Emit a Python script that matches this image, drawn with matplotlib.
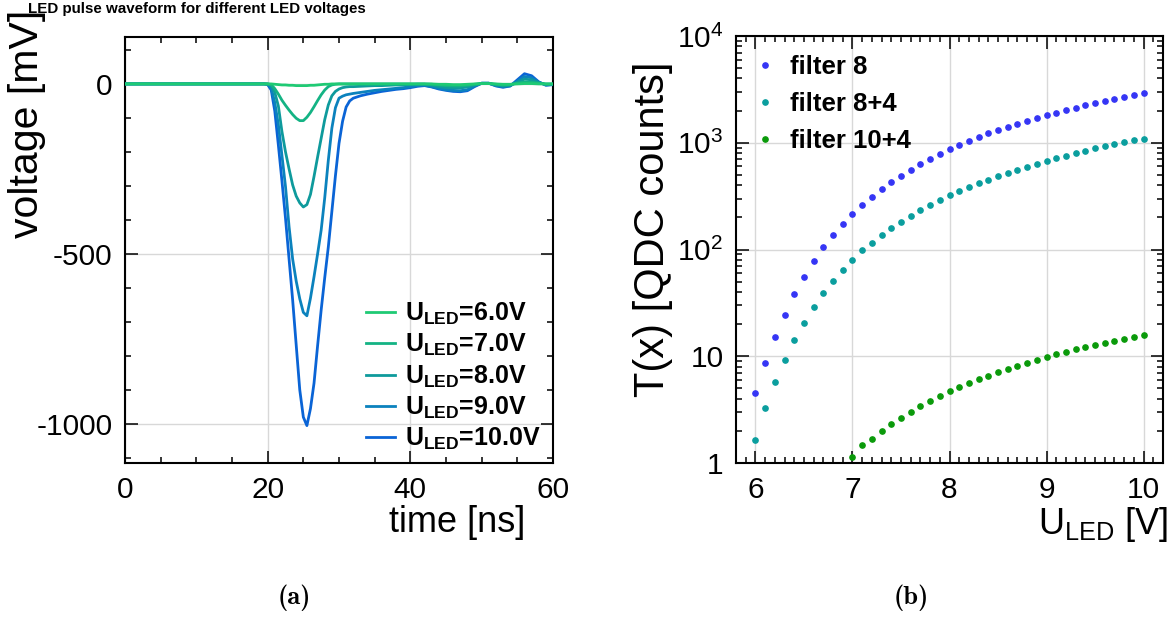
import numpy as np
import matplotlib
matplotlib.use("Agg")
from matplotlib import pyplot as plt
from matplotlib.ticker import MultipleLocator, LogLocator, FixedLocator, FixedFormatter
from matplotlib.lines import Line2D

plt.rcParams['font.family'] = ['Liberation Sans', 'DejaVu Sans']
plt.rcParams['mathtext.fontset'] = 'custom'
plt.rcParams['mathtext.rm'] = 'Liberation Sans'
plt.rcParams['mathtext.it'] = 'Liberation Sans:italic'
plt.rcParams['mathtext.bf'] = 'Liberation Sans:bold'
plt.rcParams['axes.unicode_minus'] = False

# --- (a) pulse waveforms ---
t_ns = [0, 5, 10, 15, 19.5, 20.0, 20.5, 21.0, 21.5, 22.0, 22.5, 23.0, 23.5, 24.0, 24.5,
        25.0, 25.5, 26.0, 26.5, 27.0, 27.5, 28.0, 28.5, 29.0, 29.5, 30.0, 30.5, 31.0,
        31.5, 32, 33, 34, 35, 36, 37, 38, 39, 40, 41, 42, 43, 44, 45, 46, 47, 48, 49,
        50, 51, 52, 53, 54, 55, 56, 57, 58, 59, 60]

v_6V = [0, 0, 0, 0, 0, 0, 0, -1, -2, -3, -3, -4, -4, -5, -5,
        -5, -5, -4, -4, -3, -2, -1, -1, 0, 0, 0, 0, 0,
        0, 0, 0, 0, 0, 0, 0, 0, 0, 0, 0, 0, 0, -1, -1, -2, -2, -1, 0,
        1, 1, 0, -1, -1, 0, 1, 1, 0, 0, 0]
v_7V = [0, 0, 0, 0, 0, 0, -2, -14, -30, -48, -63, -77, -90, -101, -108,
        -108, -98, -84, -67, -49, -32, -18, -8, -3, -1, 0, 0, 0,
        0, 0, 0, 0, 0, 0, 0, 0, 0, 0, 0, 0, -1, -3, -5, -6, -6, -4, -1,
        1, 1, -1, -3, -2, 2, 6, 5, 2, 0, 0]
v_8V = [0, 0, 0, 0, 0, 0, -5, -25, -65, -140, -200, -250, -297, -330, -350,
        -362, -355, -325, -272, -215, -160, -105, -62, -35, -22, -15, -11, -9,
        -8, -8, -7, -6, -5, -5, -4, -3, -3, -2, -1, -1, -4, -8, -11, -12, -12, -9, -3,
        2, 2, -3, -6, -4, 5, 14, 12, 4, -2, -1]
v_9V = [0, 0, 0, 0, 0, -1, -12, -55, -120, -210, -302, -420, -515, -580, -632,
        -672, -682, -630, -567, -500, -430, -335, -225, -130, -70, -42, -36, -32,
        -30, -28, -25, -22, -19, -17, -15, -13, -11, -8, -5, -4, -8, -13, -17, -19, -20, -17, -6,
        2, 2, -5, -8, -6, 8, 22, 18, 5, -3, -2]
v_10V = [0, 0, 0, 0, 0, -2, -18, -80, -180, -285, -395, -515, -635, -768, -900,
         -980, -1005, -955, -880, -770, -665, -570, -480, -375, -270, -175, -110, -68,
         -50, -42, -35, -30, -26, -22, -19, -16, -14, -11, -7, -5, -9, -15, -19, -22, -23, -20, -8,
         2, 2, -6, -10, -6, 12, 30, 24, 6, -4, -2]

wave_labels = ["6.0", "7.0", "8.0", "9.0", "10.0"]
wave_colors = ["#1fca74", "#14b384", "#0e9a9c", "#0b82bd", "#0a64d6"]
waves = [v_6V, v_7V, v_8V, v_9V, v_10V]

# --- (b) T(x) vs U_LED ---
u_led = [6.0, 6.1, 6.2, 6.3, 6.4, 6.5, 6.6, 6.7, 6.8, 6.9, 7.0, 7.1, 7.2, 7.3, 7.4,
         7.5, 7.6, 7.7, 7.8, 7.9, 8.0, 8.1, 8.2, 8.3, 8.4, 8.5, 8.6, 8.7, 8.8, 8.9,
         9.0, 9.1, 9.2, 9.3, 9.4, 9.5, 9.6, 9.7, 9.8, 9.9, 10.0]
f8 = [4.5, 8.6, 15.1, 24.5, 38, 55, 78, 105, 136, 174, 215, 262, 313, 366, 426,
      491, 559, 632, 709, 783, 865, 951, 1037, 1131, 1222, 1313, 1411, 1506, 1606, 1714,
      1815, 1919, 2034, 2138, 2249, 2364, 2470, 2578, 2692, 2810, 2932]
f8_4 = [1.66, 3.24, 5.68, 9.24, 14.1, 20.7, 28.7, 39.1, 51, 64.6, 80.1, 98, 116, 138, 160,
        182, 208, 235, 263, 291, 324, 354, 385, 417, 451, 488, 524, 559, 597, 636,
        674, 719, 756, 801, 841, 885, 924, 965, 1008, 1052, 1090]
u_led_104 = u_led[10:]
f10_4 = [1.14, 1.46, 1.69, 1.99, 2.30, 2.64, 3.00, 3.39, 3.82, 4.26, 4.71, 5.17, 5.59,
         6.14, 6.55, 7.09, 7.61, 8.19, 8.66, 9.23, 9.79, 10.4, 11.0, 11.6, 12.1, 12.7,
         13.3, 13.9, 14.6, 15.1, 15.8]

W, H = 1174, 619
fig = plt.figure(figsize=(W / 100, H / 100), dpi=100)

def fx(px):
    return px / W

def fy(py):
    return 1 - py / H

def root_style(ax):
    for s in ax.spines.values():
        s.set_linewidth(1.5)
    ax.tick_params(which='both', direction='in', top=True, right=True, width=1.1,
                   labelsize=21.5, pad=9)
    ax.tick_params(which='major', length=9)
    ax.tick_params(which='minor', length=4.5)
    ax.grid(True, which='major', color='#d8d8d8', lw=1.0)
    ax.set_axisbelow(True)

# left panel
ax1 = fig.add_axes([fx(125), fy(463), fx(553 - 125), (463 - 37) / H])
handles = []
for i in range(len(waves) - 1, -1, -1):
    ax1.plot(t_ns, waves[i], color=wave_colors[i], lw=2.0, zorder=3 + (4 - i))
for i in range(len(waves)):
    handles.append(Line2D([], [], color=wave_colors[i], lw=2.0))
ax1.set_xlim(0, 60)
ax1.set_ylim(-1115, 138)
ax1.xaxis.set_major_locator(MultipleLocator(20))
ax1.xaxis.set_minor_locator(MultipleLocator(5))
ax1.yaxis.set_major_locator(MultipleLocator(500))
ax1.yaxis.set_minor_locator(MultipleLocator(100))
root_style(ax1)
ax1.legend(handles, [r"U$_{\bf LED}$=" + s + "V" for s in wave_labels],
           loc='lower left', bbox_to_anchor=(fx(366), fy(452)), bbox_transform=fig.transFigure,
           frameon=False, borderpad=0, borderaxespad=0, handlelength=1.15, handletextpad=0.4,
           labelspacing=0.2, prop={'weight': 'bold', 'size': 18})

fig.text(fx(28), fy(9), "LED pulse waveform for different LED voltages",
         fontsize=10.9, fontweight='bold', ha='left', va='center')
fig.text(fx(525), fy(522), "time [ns]", fontsize=26, ha='right', va='center')
fig.text(fx(27), fy(10), "voltage [mV]", fontsize=29.5, rotation=90, ha='center', va='top')

# right panel
ax2 = fig.add_axes([fx(736), fy(463), fx(1163 - 736), (463 - 36) / H])
ax2.plot(u_led, f8, 'o', ms=3.8, color='#3535f5', label='filter 8', zorder=3)
ax2.plot(u_led, f8_4, 'o', ms=3.8, color='#0a9e9e', label='filter 8+4', zorder=3)
ax2.plot(u_led_104, f10_4, 'o', ms=3.8, color='#0a9a0a', label='filter 10+4', zorder=3)
ax2.set_yscale('log')
ax2.set_xlim(5.8, 10.2)
ax2.set_ylim(1, 1e4)
ax2.xaxis.set_major_locator(MultipleLocator(1))
ax2.xaxis.set_minor_locator(MultipleLocator(0.1))
ax2.yaxis.set_major_locator(FixedLocator([1, 10, 100, 1000, 10000]))
ax2.yaxis.set_major_formatter(FixedFormatter(["1", "10", "$10^2$", "$10^3$", "$10^4$"]))
ax2.yaxis.set_minor_locator(LogLocator(base=10, subs=np.arange(2, 10)))
ax2.yaxis.set_minor_formatter(FixedFormatter([]))
root_style(ax2)
ax2.legend(loc='upper left', bbox_to_anchor=(fx(755), fy(55)), bbox_transform=fig.transFigure,
           frameon=False, borderpad=0, borderaxespad=0, handlelength=0.8, handletextpad=0.55,
           labelspacing=0.5, markerscale=1.0, prop={'weight': 'bold', 'size': 18.5})

fig.text(fx(1168), fy(525), r"U$_{\rm LED}$ [V]", fontsize=26, ha='right', va='center')
fig.text(fx(653), fy(397), "T(x) [QDC counts]", fontsize=30, rotation=90, ha='center', va='bottom')

fig.text(fx(294), fy(598), "(a)", fontsize=19, family='cmb10', ha='center', va='center')
fig.text(fx(911), fy(598), "(b)", fontsize=19, family='cmb10', ha='center', va='center')

fig.savefig("out.png", dpi=100)
